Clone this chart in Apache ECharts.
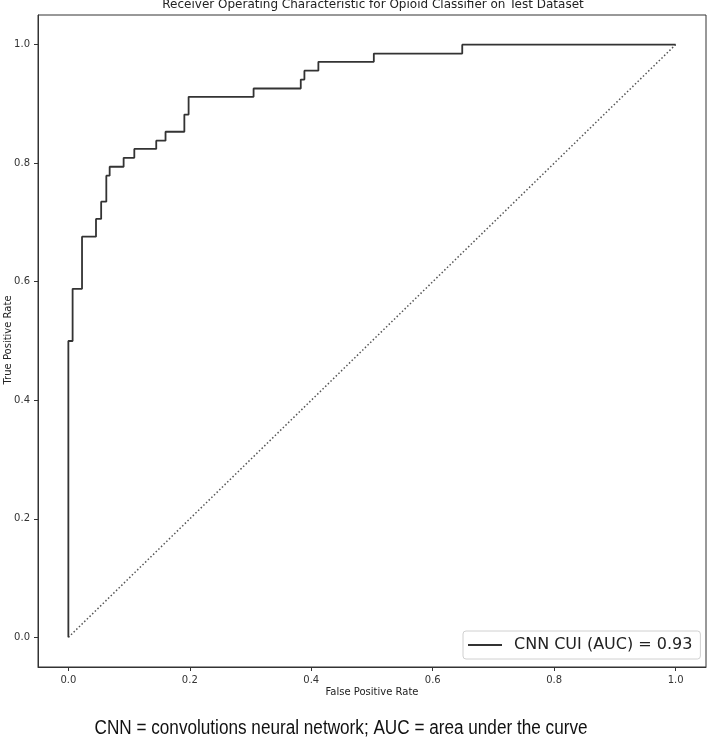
<!DOCTYPE html>
<html>
<head>
<meta charset="utf-8">
<script src="https://cdn.jsdelivr.net/npm/echarts@6/dist/echarts.min.js"></script>
<style>
html,body{margin:0;padding:0;background:#fff;}
#chart{width:708px;height:741px;}
</style>
</head>
<body>
<div id="chart"></div>
<script>
// ROC curve vertices (false positive rate, true positive rate)
var fpr = [0, 0, 0.007, 0.007, 0.0225, 0.0225, 0.0455, 0.0455, 0.054, 0.054, 0.0625, 0.0625, 0.068, 0.068, 0.091, 0.091, 0.1086, 0.1086, 0.1447, 0.1447, 0.160, 0.160, 0.191, 0.191, 0.198, 0.198, 0.305, 0.305, 0.3827, 0.3827, 0.3887, 0.3887, 0.4117, 0.4117, 0.503, 0.503, 0.6486, 0.6486, 1.0];
var tpr = [0, 0.5, 0.5, 0.588, 0.588, 0.676, 0.676, 0.706, 0.706, 0.735, 0.735, 0.779, 0.779, 0.794, 0.794, 0.809, 0.809, 0.824, 0.824, 0.838, 0.838, 0.853, 0.853, 0.882, 0.882, 0.912, 0.912, 0.926, 0.926, 0.941, 0.941, 0.956, 0.956, 0.971, 0.971, 0.985, 0.985, 1.0, 1.0];
// chance diagonal
var chanceX = [0, 1];
var chanceY = [0, 1];
var tickValues = [0, 0.2, 0.4, 0.6, 0.8, 1.0];
var seriesName = 'CNN CUI (AUC) = 0.93';
var titleText = 'Receiver Operating Characteristic for Opioid Classifier on Test Dataset';
var captionText = 'CNN = convolutions neural network; AUC = area under the curve';
var xLabel = 'False Positive Rate';
var yLabel = 'True Positive Rate';

var rocData = fpr.map(function (x, i) { return [x, tpr[i]]; });
var chanceData = chanceX.map(function (x, i) { return [x, chanceY[i]]; });

// fit caption width to the reference (narrow sans)
var capFont = '20px "Liberation Sans Narrow", "Liberation Sans", Arial, sans-serif';
var cv = document.createElement('canvas').getContext('2d');
cv.font = capFont;
var capW = cv.measureText(captionText).width;
var capScale = Math.min(1, 493 / capW);

var chart = echarts.init(document.getElementById('chart'), null, {renderer: 'canvas'});
var axisColor = '#333';
var fontFam = '"DejaVu Sans", sans-serif';
function axisCommon(name, isX) {
  return {
    type: 'value',
    min: -0.05,
    max: 1.05,
    name: name,
    nameLocation: 'middle',
    nameGap: 20,
    nameMoveOverlap: false,
    nameTextStyle: {fontFamily: fontFam, fontSize: 10, color: '#222'},
    axisLine: {show: true, onZero: false, lineStyle: {color: axisColor, width: 1}},
    axisTick: {show: true, inside: false, length: 4, customValues: tickValues, lineStyle: {color: axisColor}},
    axisLabel: {
      show: true, margin: 8, customValues: tickValues,
      fontFamily: fontFam, fontSize: 10, color: '#333',
      formatter: function (v) { return v.toFixed(1); }
    },
    splitLine: {show: false}
  };
}

var option = {
  backgroundColor: '#fff',
  animation: false,
  grid: {left: 38, right: 2, top: 15, bottom: 74, containLabel: false, outerBoundsMode: 'none', show: true, borderColor: axisColor, borderWidth: 1, backgroundColor: 'transparent'},
  xAxis: axisCommon(xLabel, true),
  yAxis: axisCommon('', false),
  legend: {
    data: [{name: seriesName, icon: 'rect'}],
    left: 463, top: 631,
    orient: 'vertical',
    padding: [6, 8, 6, 5],
    itemWidth: 34, itemHeight: 2,
    backgroundColor: '#fff',
    borderColor: '#d0d0d0', borderWidth: 1, borderRadius: 3,
    itemStyle: {color: '#333'},
    textStyle: {fontFamily: fontFam, fontSize: 16, color: '#222', padding: [0, 0, 0, 7], lineHeight: 16}
  },
  graphic: [
    {type: 'text', x: 373, y: -1, style: {text: titleText, font: '12px ' + fontFam, fill: '#222', align: 'center', verticalAlign: 'top'}},
    {type: 'text', x: 8, y: 340, rotation: Math.PI / 2, style: {text: yLabel, font: '10px ' + fontFam, fill: '#222', align: 'center', verticalAlign: 'middle'}},
    {type: 'text', x: 341, y: 728, scaleX: capScale, originX: 0, style: {text: captionText, font: capFont, fill: '#111', align: 'center', verticalAlign: 'middle'}}
  ],
  series: [
    {
      name: seriesName, type: 'line', data: rocData, symbol: 'none', showSymbol: false,
      lineStyle: {color: '#333', width: 1.8}, itemStyle: {color: '#333'}, z: 3
    },
    {
      name: 'chance', type: 'line', data: chanceData, symbol: 'none', showSymbol: false,
      lineStyle: {color: '#555', width: 1.5, type: [1.5, 2.2]}, z: 2
    }
  ]
};
chart.setOption(option);
</script>
</body>
</html>
